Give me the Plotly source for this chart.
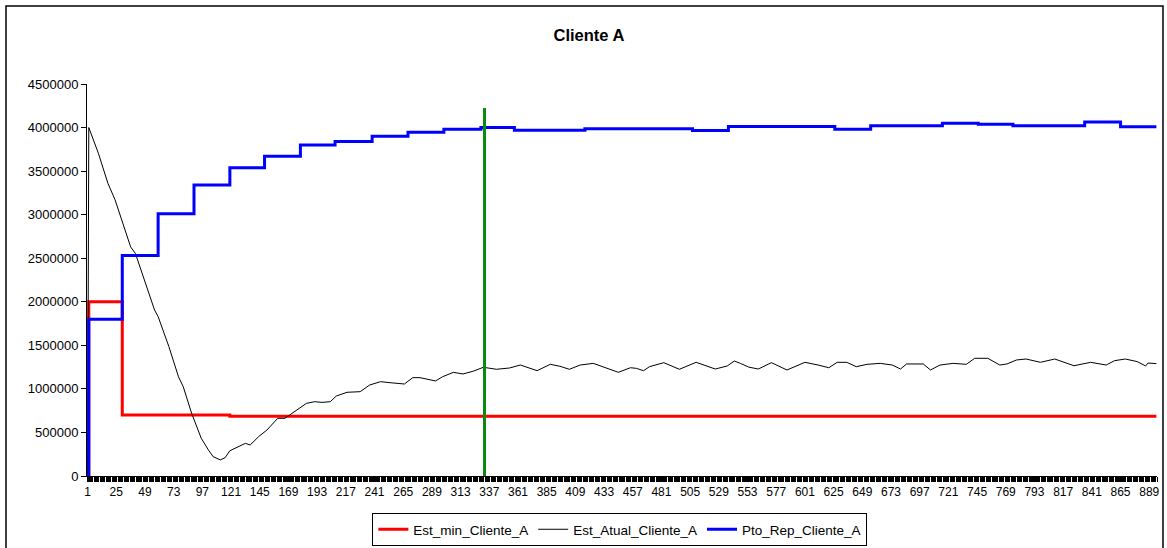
import plotly.graph_objects as go

# Day index of the simulation (categories 1..895)
n_days = 895
tick_days = list(range(1, 890, 24))
tick_text = [str(d) for d in tick_days]

# Minimum stock: change points (day, value), held until the next change
est_min_days = [1, 2, 30, 120, 895]
est_min_vals = [0, 2000000, 700000, 685000, 685000]

# Reorder point: monthly change points (day, value)
pto_rep_days = [1, 2, 30, 60, 90, 120, 149, 179, 208, 239, 269, 299, 330, 358,
                417, 507, 537, 626, 656, 716, 746, 775, 835, 865, 895]
pto_rep_vals = [0, 1800000, 2530000, 3010000, 3340000, 3540000, 3670000, 3800000,
                3840000, 3900000, 3945000, 3980000, 4000000, 3970000, 3985000,
                3965000, 4012000, 3980000, 4022000, 4050000, 4037000, 4020000,
                4065000, 4010000, 4010000]

# Current stock level
est_atual_days = [1, 2, 10, 18, 24, 30, 37, 41, 49, 57, 60, 69, 77, 81, 88, 96,
                  102, 106, 112, 116, 120, 127, 133, 137, 144, 151, 160, 166, 174,
                  184, 191, 197, 204, 209, 218, 229, 237, 246, 254, 266, 273, 279,
                  292, 298, 307, 315, 324, 332, 343, 354, 363, 377, 388, 396, 404,
                  413, 424, 435, 445, 455, 460, 466, 471, 483, 496, 510, 526, 536,
                  542, 547, 554, 562, 573, 586, 601, 612, 621, 628, 636, 644, 653,
                  664, 674, 681, 686, 700, 706, 714, 725, 736, 743, 754, 764, 770,
                  778, 786, 798, 810, 826, 840, 853, 860, 869, 879, 886, 888, 895]
est_atual_vals = [0, 4000000, 3705000, 3360000, 3170000, 2920000, 2630000, 2555000,
                  2230000, 1905000, 1830000, 1485000, 1140000, 1025000, 720000,
                  435000, 300000, 222000, 185000, 210000, 290000, 336000, 375000,
                  356000, 451000, 528000, 662000, 662000, 738000, 834000, 853000,
                  845000, 853000, 918000, 961000, 968000, 1045000, 1083000, 1071000,
                  1056000, 1129000, 1129000, 1091000, 1140000, 1190000, 1171000,
                  1205000, 1248000, 1225000, 1240000, 1274000, 1209000, 1282000,
                  1260000, 1225000, 1274000, 1293000, 1236000, 1190000, 1243000,
                  1236000, 1209000, 1255000, 1301000, 1225000, 1305000, 1228000,
                  1263000, 1320000, 1293000, 1250000, 1228000, 1301000, 1217000,
                  1305000, 1274000, 1243000, 1305000, 1305000, 1255000, 1282000,
                  1293000, 1274000, 1228000, 1286000, 1286000, 1217000, 1274000,
                  1293000, 1282000, 1351000, 1351000, 1274000, 1286000, 1332000,
                  1343000, 1305000, 1343000, 1266000, 1305000, 1274000, 1324000,
                  1343000, 1313000, 1263000, 1297000, 1290000]

# Day marked by the vertical reference line
marker_day = 333
marker_top = 4225000

FONT = "Liberation Sans, Arial, sans-serif"

fig = go.Figure()
fig.add_trace(go.Scatter(x=est_min_days, y=est_min_vals, mode="lines",
                         line=dict(color="#FF0000", width=3, shape="hv"),
                         name="Est_min_Cliente_A"))
fig.add_trace(go.Scatter(x=est_atual_days, y=est_atual_vals, mode="lines",
                         line=dict(color="#000000", width=1),
                         name="Est_Atual_Cliente_A"))
fig.add_trace(go.Scatter(x=pto_rep_days, y=pto_rep_vals, mode="lines",
                         line=dict(color="#0000FF", width=3, shape="hv"),
                         name="Pto_Rep_Cliente_A"))
fig.add_trace(go.Scatter(x=[marker_day, marker_day], y=[0, marker_top], mode="lines",
                         line=dict(color="#0C8A0C", width=3), showlegend=False,
                         hoverinfo="skip"))

fig.update_layout(
    width=1167, height=548,
    margin=dict(l=87, r=10, t=84, b=72, autoexpand=False),
    paper_bgcolor="white", plot_bgcolor="white",
    font=dict(family=FONT, color="black", size=12),
    title=dict(text="<b>Cliente A</b>", x=0.5047, xanchor="center",
               y=0.936, yanchor="middle", font=dict(size=16.5, family=FONT)),
    showlegend=True,
    legend=dict(orientation="h", x=0.498, xanchor="center",
                yref="container", y=1 - 513 / 548, yanchor="top",
                bordercolor="black", borderwidth=1, bgcolor="white",
                font=dict(size=13.5, family=FONT), tracegroupgap=0),
    xaxis=dict(range=[0.5, n_days + 0.5], tickmode="array", tickvals=tick_days,
               ticktext=tick_text, showgrid=False, zeroline=False,
               showline=True, linecolor="black", linewidth=1,
               ticks="outside", ticklen=5, tickcolor="black",
               tickfont=dict(size=12, family=FONT), automargin=False,
               minor=dict(ticks="outside", ticklen=5, tick0=0.5, dtick=1,
                          tickcolor="black", tickwidth=1, showgrid=False)),
    yaxis=dict(range=[0, 4500000], tickmode="linear", tick0=0, dtick=500000,
               tickformat="d", showgrid=False, zeroline=False,
               showline=True, linecolor="black", linewidth=1,
               ticks="outside", ticklen=5, tickcolor="black", automargin=False,
               tickfont=dict(size=13, family=FONT)),
    shapes=[dict(type="rect", xref="paper", yref="paper",
                 x0=-0.0757, x1=1.0056, y0=-0.25, y1=1.199,
                 line=dict(color="black", width=1.5), fillcolor="rgba(0,0,0,0)",
                 layer="below")],
)

fig.write_html("out.html")
